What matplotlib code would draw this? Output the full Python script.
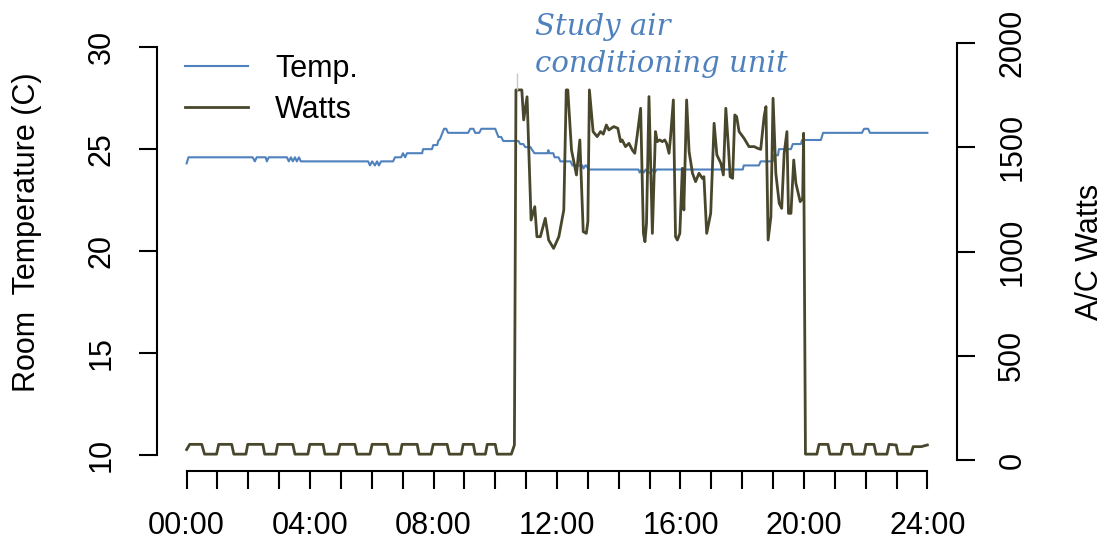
import matplotlib
matplotlib.use("Agg")
import matplotlib.pyplot as plt

# ---------------- data ----------------
temp_hours = [0.00, 0.06, 2.14, 2.21, 2.27, 2.56, 2.60, 2.66, 3.25, 3.31, 3.38, 3.44,
              3.51, 3.57, 3.64, 3.70, 5.88, 5.94, 6.01, 6.10, 6.17, 6.23, 6.30, 6.69,
              6.75, 6.95, 7.01, 7.08, 7.14, 7.63, 7.66, 7.95, 7.99, 8.12, 8.15, 8.21,
              8.34, 8.41, 8.47, 9.12, 9.19, 9.29, 9.35, 9.48, 9.55, 10.00, 10.10, 10.19,
              10.26, 10.75, 10.81, 10.91, 10.97, 11.14, 11.20, 11.27, 11.69, 11.72, 11.75,
              11.88, 11.92, 12.05, 12.11, 12.44, 12.50, 12.82, 12.86, 12.92, 12.95, 13.02,
              14.64, 14.68, 14.74, 14.81, 14.87, 14.94, 15.03, 15.10, 15.16, 15.23, 18.02,
              18.05, 18.54, 18.60, 18.99, 19.03, 19.16, 19.19, 19.58, 19.64, 19.90, 19.94,
              20.55, 20.62, 21.88, 21.95, 22.08, 22.14, 24.00]
temp_values = [24.3, 24.6, 24.6, 24.4, 24.6, 24.6, 24.4, 24.6, 24.6, 24.4, 24.6, 24.4,
               24.6, 24.4, 24.6, 24.4, 24.4, 24.2, 24.4, 24.2, 24.4, 24.2, 24.4, 24.4,
               24.6, 24.6, 24.8, 24.6, 24.8, 24.8, 25.0, 25.0, 25.2, 25.2, 25.4, 25.5,
               26.0, 26.0, 25.8, 25.8, 26.0, 26.0, 25.8, 25.8, 26.0, 26.0, 25.6, 25.6,
               25.4, 25.4, 25.25, 25.25, 25.1, 25.1, 24.95, 24.8, 24.8, 24.95, 24.8,
               24.8, 24.6, 24.6, 24.4, 24.4, 24.2, 24.2, 24.05, 24.2, 24.2, 24.0,
               24.0, 23.85, 24.0, 23.85, 24.0, 23.85, 23.85, 24.0, 23.85, 24.0, 24.0,
               24.2, 24.2, 24.4, 24.4, 24.7, 24.7, 25.0, 25.0, 25.25, 25.25, 25.45,
               25.45, 25.8, 25.8, 26.0, 26.0, 25.8, 25.8]

watt_hours = [0.00, 0.10, 0.49, 0.58, 0.97, 1.04, 1.46, 1.53, 1.92, 1.98, 2.47, 2.53,
              2.89, 2.95, 3.44, 3.51, 3.93, 3.99, 4.42, 4.48, 4.90, 4.97, 5.45, 5.52,
              5.94, 6.01, 6.49, 6.56, 6.92, 6.98, 7.47, 7.53, 7.92, 7.99, 8.44, 8.51,
              8.90, 8.96, 9.29, 9.35, 9.68, 9.74, 10.00, 10.06, 10.52, 10.62,
              10.67, 10.86, 10.92, 11.03, 11.16, 11.28, 11.35, 11.46, 11.62, 11.73, 11.89,
              12.06, 12.22, 12.30, 12.35, 12.47, 12.63, 12.74, 12.85, 12.95, 13.00, 13.05,
              13.17, 13.30, 13.41, 13.50, 13.60, 13.68, 13.84, 13.97, 14.06, 14.11, 14.22,
              14.33, 14.44, 14.52, 14.60, 14.71, 14.80, 14.85, 14.90, 14.98, 15.09, 15.19,
              15.25, 15.33, 15.41, 15.49, 15.55, 15.63, 15.68, 15.77, 15.84, 15.90, 15.98,
              16.06, 16.11, 16.20, 16.28, 16.39, 16.49, 16.60, 16.71, 16.76, 16.85, 16.98,
              17.09, 17.18, 17.31, 17.39, 17.47, 17.56, 17.61, 17.69, 17.76, 17.82, 17.90,
              18.06, 18.22, 18.39, 18.50, 18.60, 18.71, 18.77, 18.84, 18.93, 19.00, 19.09,
              19.20, 19.28, 19.36, 19.45, 19.50, 19.58, 19.67, 19.74, 19.88, 19.96, 19.99,
              20.05, 20.42, 20.49, 20.78, 20.84, 21.20, 21.27, 21.53, 21.59, 21.95, 22.01,
              22.27, 22.34, 22.69, 22.76, 22.99, 23.05, 23.47, 23.54, 23.80, 24.00]
watt_values = [50, 75, 75, 28, 28, 75, 75, 28, 28, 75, 75, 28,
               28, 75, 75, 28, 28, 75, 75, 28, 28, 75, 75, 28,
               28, 75, 75, 28, 28, 75, 75, 28, 28, 75, 75, 28,
               28, 75, 75, 28, 28, 75, 75, 28, 28, 72,
               1775, 1775, 1631, 1742, 1151, 1215, 1071, 1071, 1159, 1055, 1015,
               1071, 1199, 1775, 1775, 1487, 1367, 1535, 1095, 1087, 1143, 1775,
               1575, 1551, 1575, 1563, 1607, 1583, 1599, 1591, 1527, 1535, 1503,
               1519, 1487, 1471, 1559, 1687, 1087, 1047, 1135, 1743, 1087, 1575,
               1527, 1535, 1527, 1535, 1519, 1471, 1551, 1727, 1071, 1055, 1087,
               1399, 1199, 1727, 1479, 1375, 1335, 1375, 1351, 1359, 1087, 1183,
               1615, 1463, 1423, 1367, 1687, 1487, 1359, 1351, 1655, 1647, 1575,
               1543, 1503, 1503, 1495, 1490, 1647, 1695, 1055, 1167, 1735, 1375,
               1231, 1207, 1471, 1575, 1183, 1183, 1439, 1327, 1239, 1255, 1567,
               28, 28, 75, 75, 28, 28, 75, 75, 28, 28, 75,
               75, 28, 28, 75, 72, 28, 28, 64, 64, 72]

# faint trace above the switch-on spike
spike_hour = 10.69
spike_watts = [1775, 1856]

x_ticks = list(range(25))
x_label_hours = [0, 4, 8, 12, 16, 20, 24]
x_label_text = ["00:00", "04:00", "08:00", "12:00", "16:00", "20:00", "24:00"]
temp_ticks = [10, 15, 20, 25, 30]
watt_ticks = [0, 500, 1000, 1500, 2000]

temp_color = "#4F81BD"
watt_color = "#48462B"

# ---------------- figure ----------------
W, H = 1111, 552
fig = plt.figure(figsize=(W / 100, H / 100), dpi=100)
plt.rcParams["font.family"] = ["Liberation Sans", "DejaVu Sans"]
FS = 22

L, R, B, T = 157, 957, 471, 31
ax = fig.add_axes([L / W, 1 - B / H, (R - L) / W, (B - T) / H])
ax2 = ax.twinx()

ax.plot(temp_hours, temp_values, color=temp_color, lw=1.5, label="Temp.", zorder=3)
ax2.plot(watt_hours, watt_values, color=watt_color, lw=2.0, label="Watts", zorder=2)
ax2.vlines(spike_hour, spike_watts[0], spike_watts[1], color="#c8c8c8", lw=1)

ax.set_xlim(-0.96, 24.96)
ax.set_ylim(9.2, 30.8)
ax2.set_ylim(-52.8, 2057.6)

for a in (ax, ax2):
    a.spines["top"].set_visible(False)
    a.patch.set_visible(False)
ax.spines["right"].set_visible(False)
ax2.spines["left"].set_visible(False)
ax2.spines["bottom"].set_visible(False)
ax.spines["left"].set_bounds(10, 30)
ax.spines["bottom"].set_bounds(0, 24)
ax2.spines["right"].set_bounds(0, 2000)
for s in ("left", "bottom"):
    ax.spines[s].set_linewidth(1.5)
ax2.spines["right"].set_linewidth(1.5)

ax.set_xticks(x_ticks)
ax.set_xticklabels([x_label_text[x_label_hours.index(h)] if h in x_label_hours else ""
                    for h in x_ticks])
ax.set_yticks(temp_ticks)
ax.set_yticklabels([str(v) for v in temp_ticks], rotation=90, va="center")
ax2.set_yticks(watt_ticks)
ax2.set_yticklabels([str(v) for v in watt_ticks], rotation=90, va="center")

ax.tick_params(axis="both", length=13, width=1.5, pad=16, labelsize=FS, direction="out")
ax2.tick_params(axis="y", length=13, width=1.5, pad=16, labelsize=FS, direction="out")

fig.text(27 / W, 1 - 232 / H, "Room  Temperature (C)", rotation=90, ha="center",
         va="center", fontsize=FS)
fig.text(1090 / W, 1 - 252 / H, "A/C Watts", rotation=90, ha="center", va="center",
         fontsize=FS)

h1, l1 = ax.get_legend_handles_labels()
h2, l2 = ax2.get_legend_handles_labels()
fig.legend(h1 + h2, l1 + l2, loc="upper left", bbox_to_anchor=(185 / W, 1 - 54 / H),
           bbox_transform=fig.transFigure, frameon=False, fontsize=FS,
           handlelength=2.05, handletextpad=0.9, labelspacing=0.35, borderpad=0,
           borderaxespad=0)

fig.text(535 / W, 1 - 35 / H, "Study air", fontsize=21, style="italic",
         family="DejaVu Serif", color=temp_color, va="baseline")
fig.text(535 / W, 1 - 72 / H, "conditioning unit", fontsize=21, style="italic",
         family="DejaVu Serif", color=temp_color, va="baseline")

fig.savefig("out.png", dpi=100)
